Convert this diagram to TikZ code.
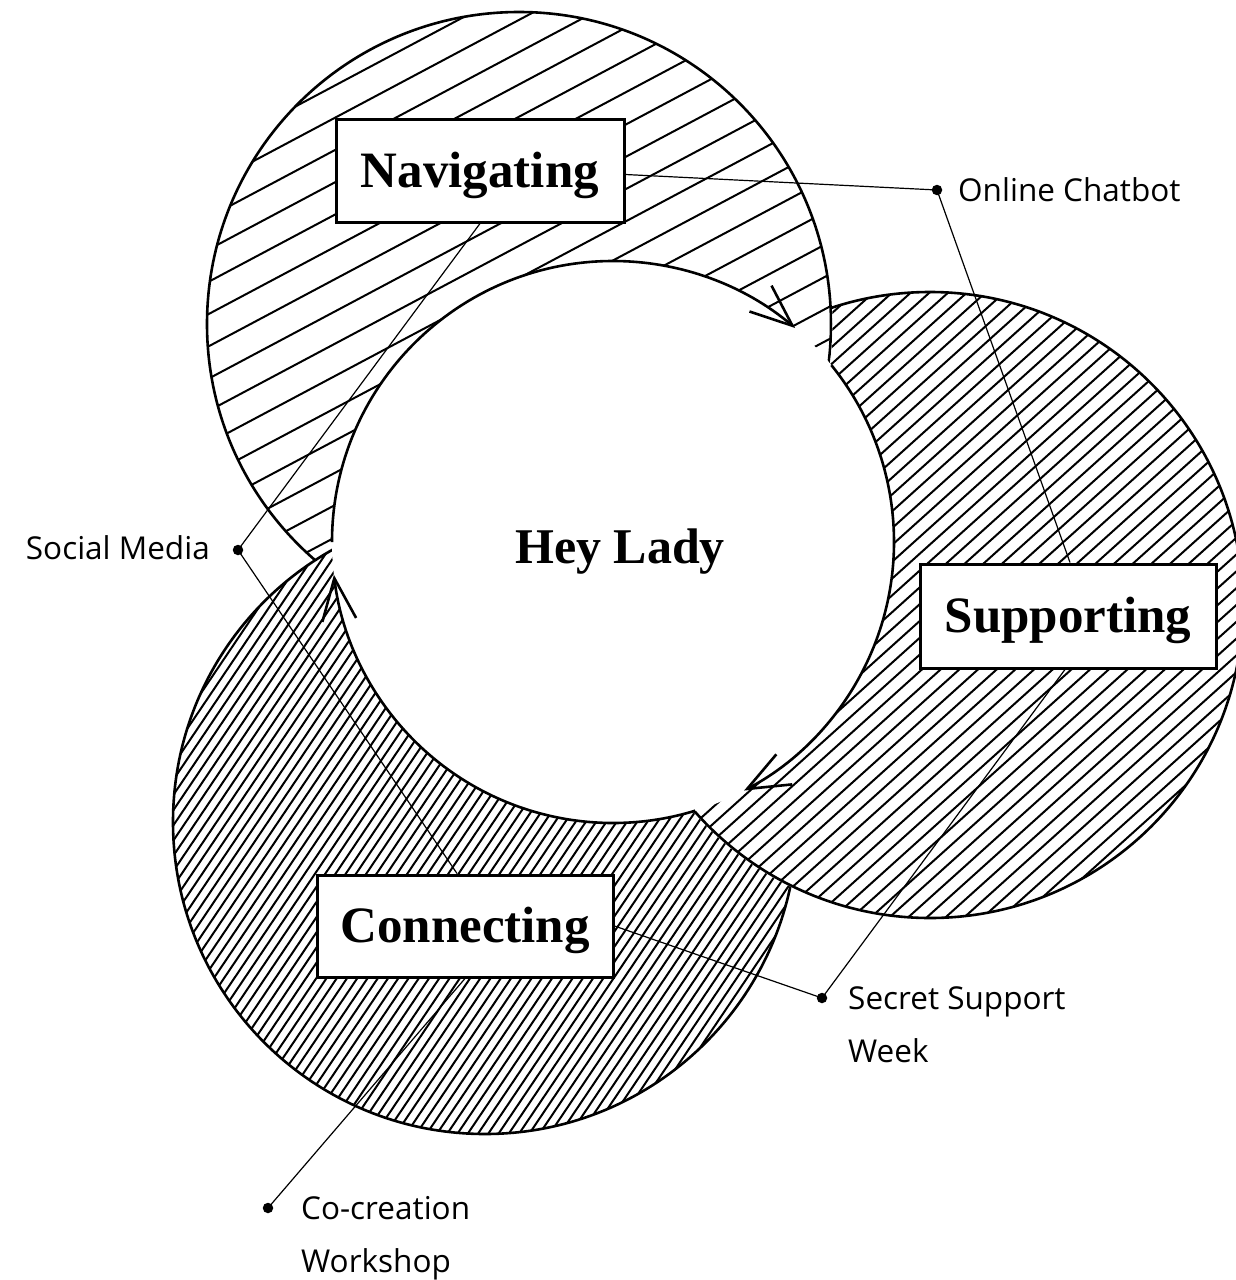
\documentclass[tikz,border=0pt]{standalone}
\usepackage{fontspec}
\newfontfamily\titleserif{Liberation Serif}
\newfontfamily\labelsans{Open Sans}
\usetikzlibrary{arrows.meta}

\begin{document}
\begin{tikzpicture}[x=1pt,y=1pt,
  outline/.style={line width=2.6pt},
  hatchline/.style={line width=2pt},
  flowarc/.style={line width=2.6pt, -{Straight Barb[length=42pt,width=34pt]}},
  box/.style={draw, line width=3pt, fill=white, inner sep=0pt,
    text height=35pt, text depth=2pt,
    font=\titleserif\bfseries\fontsize{51}{51}\selectfont},
  lbl/.style={font=\labelsans\fontsize{31.5}{53}\selectfont, inner sep=0pt, align=left},
  conn/.style={line width=1.2pt},
  dot/.style={circle, fill=black, inner sep=0pt, minimum size=10.5pt}
]
\useasboundingbox (0,0) rectangle (1235,-1280);

\coordinate (navc) at (519,-324);
\coordinate (supc) at (930,-605);
\coordinate (conc) at (485,-822);
\coordinate (hc) at (613,-542);

% Navigating circle (bottom layer)
\fill[white] (navc) circle[radius=312];
\begin{scope}
  \clip (navc) circle[radius=312];
  \begin{scope}[shift={(navc)}, rotate=28]
    \foreach \k in {-330,-301.5,...,330} \draw[hatchline] (-330,\k) -- (330,\k);
  \end{scope}
\end{scope}
\draw[outline] (navc) circle[radius=312];

% Connecting circle (over Navigating, under Supporting)
\begin{scope}
  \clip (-10,10) -- (1245,10) -- (1245,-1290) -- (-10,-1290) -- cycle
        (supc) circle[radius=314.5];
  \fill[white] (conc) circle[radius=312];
  \begin{scope}
    \clip (conc) circle[radius=312];
    \begin{scope}[shift={(conc)}, rotate=56]
      \foreach \k in {-330,-321.5,...,330} \draw[hatchline] (-330,\k) -- (330,\k);
    \end{scope}
  \end{scope}
  \draw[outline] (conc) circle[radius=312];
\end{scope}

% Supporting circle (over Connecting, under Navigating)
\begin{scope}
  \clip (-10,10) -- (1245,10) -- (1245,-1290) -- (-10,-1290) -- cycle
        (navc) circle[radius=313.5];
  \fill[white] (supc) circle[radius=313];
  \begin{scope}
    \clip (supc) circle[radius=313];
    \begin{scope}[shift={(supc)}, rotate=42]
      \foreach \k in {-330,-317.5,...,330} \draw[hatchline] (-330,\k) -- (330,\k);
    \end{scope}
  \end{scope}
  \draw[outline] (supc) circle[radius=313];
\end{scope}

% Central circle
\fill[white] (hc) circle[radius=281];
\draw[flowarc] ([shift={(180:281)}]hc) arc[start angle=180, end angle=49.6, radius=281];
\draw[flowarc] ([shift={(39:281)}]hc) arc[start angle=39, end angle=-62.2, radius=281];
\draw[flowarc] ([shift={(-73:281)}]hc) arc[start angle=-73, end angle=-173.3, radius=281];

\node[font=\titleserif\bfseries\fontsize{50}{50}\selectfont, anchor=base, inner sep=0pt] (hey) at (620,-563) {Hey Lady};

% Boxes
\node[box, minimum width=288pt, minimum height=103pt] (nav) at (480,-170.5) {Navigating};
\node[box, minimum width=296pt, minimum height=104pt] (sup) at (1068,-616) {Supporting};
\node[box, minimum width=296pt, minimum height=102pt] (con) at (465,-926) {Connecting};

% Label dots
\node[dot] (dchat) at (937,-190) {};
\node[dot] (dsocial) at (238,-550) {};
\node[dot] (dsecret) at (822,-998) {};
\node[dot] (dcocr) at (268,-1208) {};

% Labels
\node[lbl, anchor=base west] (lchat) at (958,-201) {Online Chatbot};
\node[lbl, anchor=base east] (lsocial) at (210,-559) {Social Media};
\node[lbl, anchor=base west] (lsecret) at (848,-1062) {Secret Support\\Week};
\node[lbl, anchor=base west] (lcocr) at (301,-1272) {Co-creation\\Workshop};

% Connectors
\draw[conn] ([yshift=-4pt]nav.east) -- (dchat.center);
\draw[conn] (dchat.center) -- ([xshift=2pt]sup.north);
\draw[conn] (dsocial.center) -- (nav.south);
\draw[conn] (dsocial.center) -- ([xshift=-8pt]con.north);
\draw[conn] (con.east) -- (dsecret.center);
\draw[conn] (dsecret.center) -- ([xshift=-3pt]sup.south);
\draw[conn] (dcocr.center) -- (con.south);
\end{tikzpicture}
\end{document}
